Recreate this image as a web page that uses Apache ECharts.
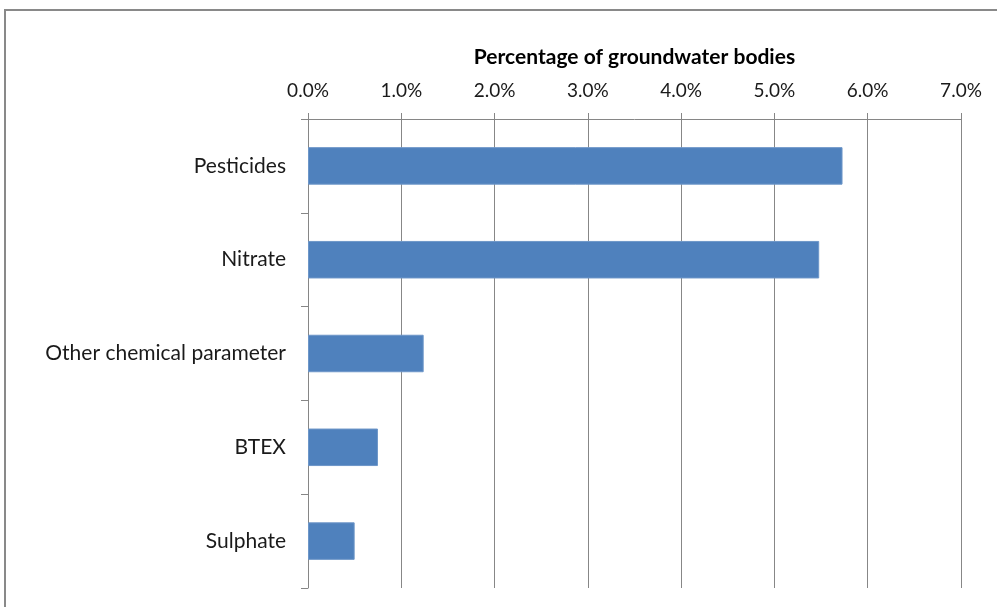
<!DOCTYPE html>
<html>
<head>
<meta charset="utf-8">
<script src="https://cdn.jsdelivr.net/npm/echarts@6/dist/echarts.min.js"></script>
<style>
  html, body { margin: 0; padding: 0; background: #fff; }
  #chart { width: 997px; height: 607px; }
</style>
</head>
<body>
<div id="chart"></div>
<script>
// Share of groundwater bodies failing good chemical status, by pollutant
const categories = ['Pesticides', 'Nitrate', 'Other chemical parameter', 'BTEX', 'Sulphate'];
const shares = [5.73, 5.48, 1.24, 0.75, 0.50];
const axisTitle = 'Percentage of groundwater bodies';

const font = 'Lato';
const chart = echarts.init(document.getElementById('chart'), null, { renderer: 'canvas' });

chart.setOption({
  animation: false,
  backgroundColor: '#ffffff',
  graphic: [{
    type: 'rect',
    shape: { x: 5, y: 10, width: 1000, height: 610 },
    style: { fill: 'none', stroke: '#898989', lineWidth: 2 },
    silent: true
  }],
  grid: { left: 308, right: 36, top: 119, bottom: 19, containLabel: false },
  xAxis: {
    type: 'value',
    position: 'top',
    min: 0,
    max: 7,
    interval: 1,
    name: axisTitle,
    nameLocation: 'middle',
    nameGap: 51,
    nameTextStyle: { fontFamily: font, fontSize: 21, fontWeight: 'bold', color: '#000' },
    axisLine: { show: true, lineStyle: { color: '#868686', width: 1 } },
    axisTick: { show: true, length: 6, lineStyle: { color: '#868686' } },
    axisLabel: {
      fontFamily: font, fontSize: 19, color: '#1a1a1a', margin: 19,
      formatter: v => v.toFixed(1) + '%'
    },
    splitLine: { show: true, lineStyle: { color: '#878787', width: 1 } }
  },
  yAxis: {
    type: 'category',
    inverse: true,
    data: categories,
    axisLine: { show: true, lineStyle: { color: '#868686', width: 1 } },
    axisTick: { show: true, length: 7, alignWithLabel: false, lineStyle: { color: '#868686' } },
    axisLabel: { fontFamily: font, fontSize: 21, color: '#1a1a1a', margin: 22 },
    splitLine: { show: false }
  },
  series: [{
    type: 'bar',
    data: shares,
    barCategoryGap: '60%',
    itemStyle: { color: '#4F81BD', borderColor: '#6d96c8', borderWidth: 1 }
  }]
});
</script>
</body>
</html>
